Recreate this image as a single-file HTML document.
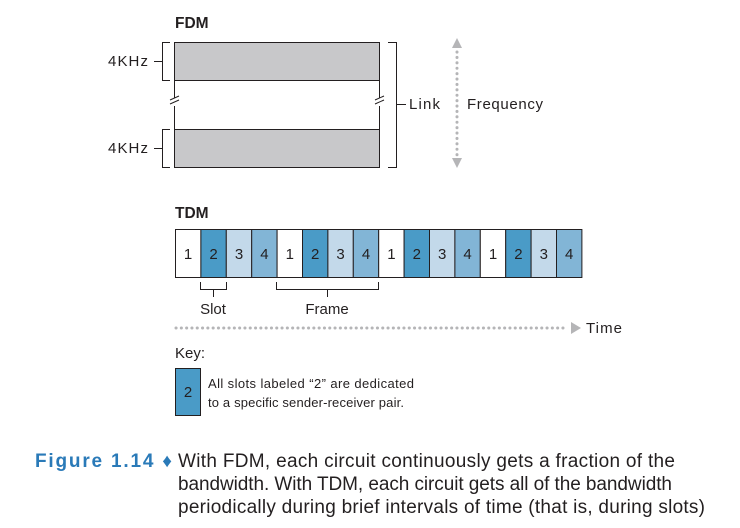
<!DOCTYPE html>
<html><head><style>
body{margin:0;background:#fff;}
svg{display:block;font-family:"Liberation Sans",sans-serif;}
</style></head><body>
<svg width="740" height="528" viewBox="0 0 740 528" xmlns="http://www.w3.org/2000/svg">
<text x="175" y="28" font-size="15.5" font-weight="bold" fill="#231f20">FDM</text>
<rect x="174.5" y="42.5" width="205" height="38" fill="#c8c8ca" stroke="#231f20" stroke-width="1"/>
<rect x="174.5" y="129.5" width="205" height="38" fill="#c8c8ca" stroke="#231f20" stroke-width="1"/>
<line x1="174.5" y1="80" x2="174.5" y2="130" stroke="#231f20"/>
<line x1="379.5" y1="80" x2="379.5" y2="130" stroke="#231f20"/>
<g stroke="#fff" stroke-width="4"><line x1="174.5" y1="98" x2="174.5" y2="106"/><line x1="379.5" y1="98" x2="379.5" y2="106"/></g>
<g stroke="#231f20" stroke-width="1">
<line x1="170" y1="100" x2="179" y2="96"/><line x1="170" y1="104" x2="179" y2="100"/>
<line x1="375" y1="100" x2="384" y2="96"/><line x1="375" y1="104" x2="384" y2="100"/>
<polyline fill="none" points="170,42.5 162.5,42.5 162.5,80.5 170,80.5"/>
<line x1="154" y1="61.5" x2="162" y2="61.5"/>
<polyline fill="none" points="170,129.5 162.5,129.5 162.5,167.5 170,167.5"/>
<line x1="154" y1="148.5" x2="162" y2="148.5"/>
<polyline fill="none" points="388,42.5 396.5,42.5 396.5,167.5 388,167.5"/>
<line x1="397" y1="104.5" x2="406" y2="104.5"/>
</g>
<g font-size="15" fill="#231f20">
<text x="108" y="66" textLength="40">4KHz</text>
<text x="108" y="153" textLength="40">4KHz</text>
<text x="409" y="109" textLength="31">Link</text>
<text x="467" y="109" textLength="76">Frequency</text>
</g>
<polygon points="457,38 452,48 462,48" fill="#b5b5b7"/>
<polygon points="457,168 452,158 462,158" fill="#b5b5b7"/>
<line x1="457" y1="52" x2="457" y2="156" stroke="#b5b5b7" stroke-width="3" stroke-linecap="round" stroke-dasharray="0.1,5.3"/>

<text x="175" y="218" font-size="15.5" font-weight="bold" fill="#231f20">TDM</text>
<g stroke="#231f20" stroke-width="1">
<rect x="175.5" y="229.5" width="25.4" height="48" fill="#fff"/><rect x="200.9" y="229.5" width="25.4" height="48" fill="#4a9bc7"/><rect x="226.3" y="229.5" width="25.4" height="48" fill="#c3d9ea"/><rect x="251.7" y="229.5" width="25.4" height="48" fill="#82b5d6"/>
<rect x="277.1" y="229.5" width="25.4" height="48" fill="#fff"/><rect x="302.5" y="229.5" width="25.4" height="48" fill="#4a9bc7"/><rect x="327.9" y="229.5" width="25.4" height="48" fill="#c3d9ea"/><rect x="353.3" y="229.5" width="25.4" height="48" fill="#82b5d6"/>
<rect x="378.7" y="229.5" width="25.4" height="48" fill="#fff"/><rect x="404.1" y="229.5" width="25.4" height="48" fill="#4a9bc7"/><rect x="429.5" y="229.5" width="25.4" height="48" fill="#c3d9ea"/><rect x="454.9" y="229.5" width="25.4" height="48" fill="#82b5d6"/>
<rect x="480.3" y="229.5" width="25.4" height="48" fill="#fff"/><rect x="505.7" y="229.5" width="25.4" height="48" fill="#4a9bc7"/><rect x="531.1" y="229.5" width="25.4" height="48" fill="#c3d9ea"/><rect x="556.5" y="229.5" width="25.4" height="48" fill="#82b5d6"/>
</g>
<g font-size="15" fill="#231f20" text-anchor="middle">
<text x="188" y="259">1</text><text x="213.6" y="259">2</text><text x="239" y="259">3</text><text x="264.4" y="259">4</text>
<text x="289.8" y="259">1</text><text x="315.2" y="259">2</text><text x="340.6" y="259">3</text><text x="366" y="259">4</text>
<text x="391.4" y="259">1</text><text x="416.8" y="259">2</text><text x="442.2" y="259">3</text><text x="467.6" y="259">4</text>
<text x="493" y="259">1</text><text x="518.4" y="259">2</text><text x="543.8" y="259">3</text><text x="569.2" y="259">4</text>
<text x="213" y="314">Slot</text><text x="327" y="314">Frame</text>
</g>
<g stroke="#231f20" fill="none">
<polyline points="200.5,282 200.5,289.5 226.5,289.5 226.5,282"/><line x1="213.5" y1="289.5" x2="213.5" y2="297"/>
<polyline points="276.5,282 276.5,289.5 378.5,289.5 378.5,282"/><line x1="327.5" y1="289.5" x2="327.5" y2="297"/>
</g>
<line x1="176" y1="328" x2="568" y2="328" stroke="#b5b5b7" stroke-width="3" stroke-linecap="round" stroke-dasharray="0.1,5.2"/>
<polygon points="571,322 581,328 571,334" fill="#b5b5b7"/>
<text x="586" y="333" font-size="15" fill="#231f20" textLength="36">Time</text>
<text x="175" y="358" font-size="15" fill="#231f20">Key:</text>
<rect x="175.5" y="368.5" width="25" height="47" fill="#4a9bc7" stroke="#231f20"/>
<text x="188" y="397" font-size="15" fill="#231f20" text-anchor="middle">2</text>
<text x="208" y="388" font-size="13" fill="#231f20" textLength="206">All slots labeled “2” are dedicated</text>
<text x="208" y="407" font-size="13" fill="#231f20" textLength="196">to a specific sender-receiver pair.</text>

<text x="35" y="467" font-size="19" font-weight="bold" fill="#2a7ab8" textLength="137">Figure 1.14 ♦</text>
<g font-size="19" fill="#231f20">
<text x="178" y="467" textLength="497">With FDM, each circuit continuously gets a fraction of the</text>
<text x="178" y="490" textLength="494">bandwidth. With TDM, each circuit gets all of the bandwidth</text>
<text x="178" y="513" textLength="527">periodically during brief intervals of time (that is, during slots)</text>
</g>
</svg>
</body></html>
